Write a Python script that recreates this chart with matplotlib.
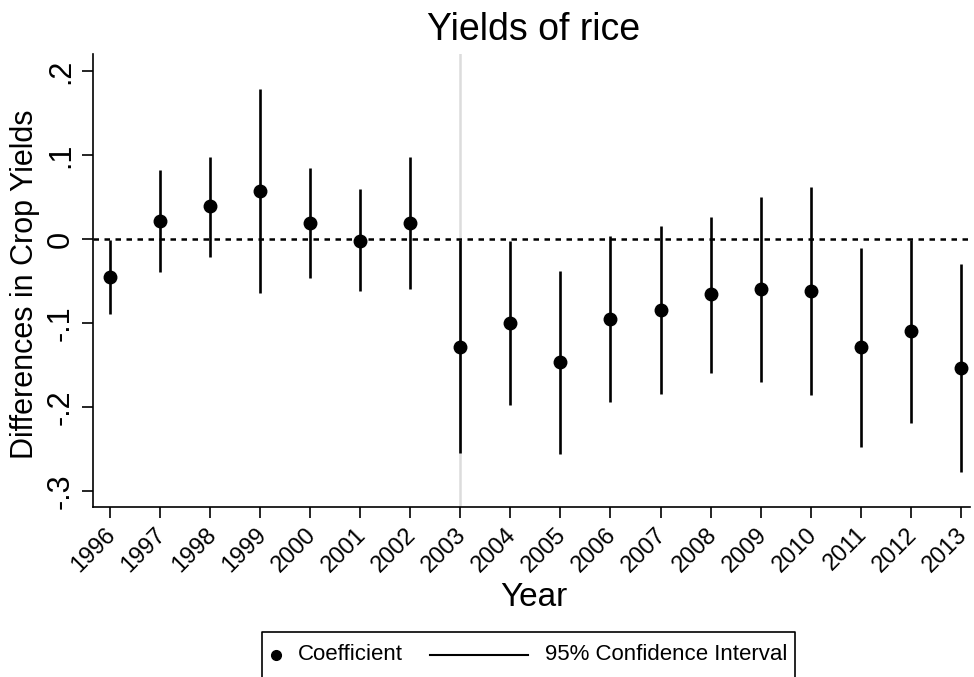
import matplotlib
matplotlib.use("Agg")
import matplotlib.pyplot as plt
import matplotlib.transforms as mtransforms
from matplotlib.lines import Line2D
import numpy as np

plt.rcParams['font.family'] = ['Liberation Sans', 'DejaVu Sans']

# values
years = np.arange(1996, 2014)
coef = [-0.045, 0.021, 0.039, 0.057, 0.019, -0.002, 0.019, -0.128, -0.100,
        -0.147, -0.095, -0.084, -0.066, -0.060, -0.062, -0.129, -0.110, -0.154]
ci_lo = [-0.089, -0.039, -0.021, -0.064, -0.047, -0.062, -0.059, -0.255, -0.198,
         -0.256, -0.194, -0.184, -0.159, -0.170, -0.186, -0.248, -0.219, -0.277]
ci_hi = [-0.001, 0.082, 0.098, 0.178, 0.085, 0.059, 0.098, -0.001, -0.002,
         -0.038, 0.003, 0.016, 0.026, 0.050, 0.062, -0.011, -0.001, -0.030]
yticks = [-0.3, -0.2, -0.1, 0, 0.1, 0.2]
ytick_labels = ['-.3', '-.2', '-.1', '0', '.1', '.2']

W, H = 974, 677
fig = plt.figure(figsize=(W / 100, H / 100), dpi=100)
ax = fig.add_axes([92.7 / W, 1 - 506.7 / H, (970 - 92.7) / W, (506.7 - 54) / H])

ax.axvline(2003, color='#dcdcdc', lw=1.8, zorder=0)
ax.axhline(0, color='black', lw=1.8, linestyle=(0, (2.2, 2.2)), zorder=1)
ax.vlines(years, ci_lo, ci_hi, color='black', lw=1.9, zorder=2)
ax.plot(years, coef, 'o', color='black', ms=9, zorder=3)

ax.set_xlim(1995.66, 2013.18)
ax.set_ylim(-0.3187, 0.2202)
ax.set_xticks(years)
ax.set_xticklabels([str(y) for y in years], rotation=45, ha='right', va='top',
                   rotation_mode='anchor', fontsize=17)
ax.set_yticks(yticks)
ax.set_yticklabels(ytick_labels, rotation=90, va='center', fontsize=22)
ax.tick_params(axis='both', direction='out', length=8, width=1.2, color='black')
ax.tick_params(axis='y', pad=4)
ax.tick_params(axis='x', pad=4)

# nudge the slanted labels left so the last one stays inside the figure
# (after tick_params, which would reset the transforms)
shift = mtransforms.ScaledTranslation(-5 / 100, 0, fig.dpi_scale_trans)
for tick in ax.xaxis.get_major_ticks():
    tick.label1.set_transform(tick.label1.get_transform() + shift)

for s in ['top', 'right']:
    ax.spines[s].set_visible(False)
for s in ['left', 'bottom']:
    ax.spines[s].set_linewidth(1.2)

fig.text(534 / W, 1 - 30 / H, 'Yields of rice', ha='center', va='center', fontsize=27)
fig.text(25 / W, 1 - 284 / H, 'Differences in Crop Yields', ha='center', va='center',
         rotation=90, fontsize=22)
fig.text(534 / W, 1 - 597 / H, 'Year', ha='center', va='center', fontsize=24)

# legend box, cut by the bottom edge like the reference
box = [(262, 690), (262, 632), (795, 632), (795, 690)]
fig.add_artist(Line2D([p[0] / W for p in box], [1 - p[1] / H for p in box],
                      color='black', lw=1.2))
ly = 1 - 655 / H
fig.add_artist(Line2D([276 / W], [ly], marker='o', color='black', ms=7))
fig.text(298 / W, ly, 'Coefficient', ha='left', va='center', fontsize=16)
fig.add_artist(Line2D([430 / W, 528 / W], [ly, ly], color='black', lw=1.5))
fig.text(545 / W, ly, '95% Confidence Interval', ha='left', va='center', fontsize=16)

fig.savefig('out.png', dpi=100)
